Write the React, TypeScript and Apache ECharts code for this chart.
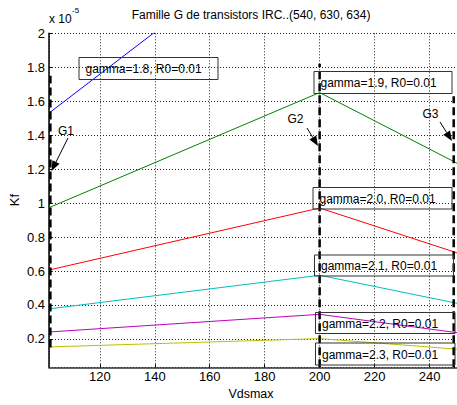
import React, { useEffect, useRef } from 'react';
import * as echarts from 'echarts';

// Vdsmax sample points
const xValues = [101.5, 200, 250];
// Kf values (x 1e-5) per gamma
const gamma18 = [1.53, 2.75, 2.05];
const gamma19 = [0.973, 1.651, 1.235];
const gamma20 = [0.606, 0.971, 0.707];
const gamma21 = [0.377, 0.575, 0.41];
const gamma22 = [0.241, 0.345, 0.237];
const gamma23 = [0.153, 0.202, 0.14];
const seriesValues = [gamma18, gamma19, gamma20, gamma21, gamma22, gamma23];
const seriesNames = ['gamma=1.8', 'gamma=1.9', 'gamma=2.0', 'gamma=2.1', 'gamma=2.2', 'gamma=2.3'];
const boxTexts = [
  'gamma=1.8, R0=0.01',
  'gamma=1.9, R0=0.01',
  'gamma=2.0, R0=0.01',
  'gamma=2.1, R0=0.01',
  'gamma=2.2, R0=0.01',
  'gamma=2.3, R0=0.01',
];
// Group marker vertical lines (data coords)
const markerNames = ['G1', 'G2', 'G3'];
const markerX = [102, 200, 248.8];
const markerLow = [0.15, 0.033, 0.033];
const markerHigh = [1.75, 1.82, 1.63];

const titleText = 'Famille G de transistors IRC..(540, 630, 634)';
const xName = 'Vdsmax';
const yName = 'Kf';

const colors = ['#0000ff', '#008000', '#ff0000', '#00bfbf', '#bf00bf', '#bfbf00'];
const FONT = 'Liberation Sans, Arial, Helvetica, sans-serif';

// annotation layout (pixels)
const boxRects = [
  [79, 57.5, 139, 22],
  [314, 71.5, 138, 22],
  [313, 187.5, 139, 21.5],
  [314.5, 255, 139, 21],
  [315.5, 312.5, 139.5, 21],
  [315.5, 343, 139.5, 22],
];
const gLabelPos = [
  [66, 131],
  [295.5, 119],
  [430.5, 114],
];
const arrowPts = [
  [68, 138, 51.5, 171],
  [307, 128, 318, 146],
  [440, 122, 452, 141],
];

function arrow(x1: number, y1: number, x2: number, y2: number) {
  const a = Math.atan2(y2 - y1, x2 - x1);
  const L = 10;
  const W = 4;
  const bx = x2 - L * Math.cos(a);
  const by = y2 - L * Math.sin(a);
  const s = Math.sin(a);
  const c = Math.cos(a);
  return [
    {
      type: 'line',
      z: 100,
      shape: { x1, y1, x2: bx, y2: by },
      style: { stroke: '#000', lineWidth: 1 },
    },
    {
      type: 'polygon',
      z: 100,
      shape: {
        points: [
          [x2, y2],
          [bx - W * s, by + W * c],
          [bx + W * s, by - W * c],
        ],
      },
      style: { fill: '#000' },
    },
  ];
}

export default function App() {
  const ref = useRef<HTMLDivElement>(null);
  useEffect(() => {
    if (!ref.current) return;
    const chart = echarts.init(ref.current, null, { renderer: 'svg' });

    const series: any[] = seriesValues.map((vals, i) => ({
      name: seriesNames[i],
      type: 'line',
      data: xValues.map((x, j) => [x, vals[j]]),
      symbol: 'none',
      clip: true,
      lineStyle: { color: colors[i], width: 1 },
      z: 2,
    }));
    markerX.forEach((x, i) => {
      series.push({
        name: markerNames[i],
        type: 'line',
        data: [
          [x, markerLow[i]],
          [x, markerHigh[i]],
        ],
        symbol: 'none',
        clip: false,
        lineStyle: { color: '#000', width: 2.5, type: [8, 4] },
        z: 3,
      });
    });

    const graphics: any[] = [
      {
        type: 'text',
        x: 251,
        y: 14.5,
        z: 100,
        style: { text: titleText, font: `12px ${FONT}`, fill: '#000', align: 'center', verticalAlign: 'middle' },
      },
      {
        type: 'text',
        x: 49,
        y: 18.5,
        z: 100,
        style: { text: 'x 10', font: `12px ${FONT}`, fill: '#000', align: 'left', verticalAlign: 'middle' },
      },
      {
        type: 'text',
        x: 72,
        y: 10.5,
        z: 100,
        style: { text: '-5', font: `8px ${FONT}`, fill: '#000', align: 'left', verticalAlign: 'middle' },
      },
      {
        type: 'text',
        x: 14,
        y: 200,
        rotation: Math.PI / 2,
        z: 100,
        style: { text: yName, font: `13px ${FONT}`, fill: '#000', align: 'center', verticalAlign: 'middle' },
      },
      {
        type: 'text',
        x: 251,
        y: 394,
        z: 100,
        style: { text: xName, font: `12.5px ${FONT}`, fill: '#000', align: 'center', verticalAlign: 'middle' },
      },
    ];
    boxRects.forEach((r, i) => {
      graphics.push({
        type: 'rect',
        z: 100,
        shape: { x: r[0], y: r[1], width: r[2], height: r[3] },
        style: { fill: 'none', stroke: '#333', lineWidth: 1 },
      });
      graphics.push({
        type: 'text',
        z: 100,
        x: r[0] + 6.5,
        y: r[1] + r[3] / 2 + 0.5,
        style: { text: boxTexts[i], font: `12px ${FONT}`, fill: '#000', align: 'left', verticalAlign: 'middle' },
      });
    });
    markerNames.forEach((n, i) => {
      graphics.push({
        type: 'text',
        z: 100,
        x: gLabelPos[i][0],
        y: gLabelPos[i][1],
        style: { text: n, font: `12px ${FONT}`, fill: '#000', align: 'center', verticalAlign: 'middle' },
      });
      const a = arrowPts[i];
      graphics.push(...arrow(a[0], a[1], a[2], a[3]));
    });

    const gridLine = { show: true, lineStyle: { color: '#222', width: 1, type: [1, 2] } };

    chart.setOption({
      animation: false,
      backgroundColor: '#fff',
      grid: { left: 49, right: 0, top: 33.3, bottom: 37.7, containLabel: false, outerBoundsMode: 'none' },
      xAxis: {
        type: 'value',
        min: 101.5,
        max: 250,
        splitNumber: 7,
        axisLine: { show: true, lineStyle: { color: '#333', width: 1.5 } },
        axisTick: { show: true, inside: true, length: 3, lineStyle: { color: '#000' } },
        axisLabel: {
          show: true,
          showMinLabel: false,
          showMaxLabel: false,
          margin: 3,
          color: '#000',
          fontSize: 13,
          fontFamily: FONT,
        },
        splitLine: gridLine,
      },
      yAxis: {
        type: 'value',
        min: 0.033,
        max: 2,
        splitNumber: 10,
        axisLine: { show: true, lineStyle: { color: '#000', width: 1.5 } },
        axisTick: { show: true, inside: true, length: 3, lineStyle: { color: '#000' } },
        axisLabel: {
          show: true,
          showMinLabel: false,
          margin: 4,
          color: '#000',
          fontSize: 13,
          fontFamily: FONT,
        },
        splitLine: gridLine,
      },
      series,
      graphic: graphics,
    });
    return () => chart.dispose();
  }, []);
  return (
    <div
      ref={ref}
      style={{ position: 'fixed', left: 0, top: 0, width: 457, height: 405, background: '#fff' }}
    />
  );
}
